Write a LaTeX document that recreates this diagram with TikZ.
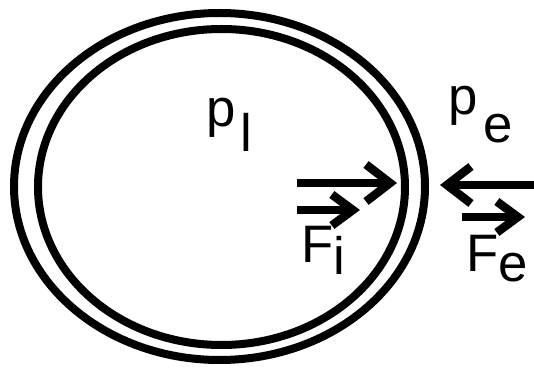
\documentclass[tikz,border=0pt]{standalone}
\usepackage{fontspec}
\setmainfont{Liberation Sans}
\usetikzlibrary{arrows.meta, shapes.geometric}

\begin{document}
\begin{tikzpicture}[
    wall/.style={draw, ellipse, line width=0.16cm, inner sep=0, outer sep=0},
    force/.style={-{Straight Barb[length=0.48cm, width=0.74cm]}, line width=0.17cm},
    vec/.style={-{Straight Barb[length=0.42cm, width=0.62cm]}, line width=0.17cm},
    lbl/.style={anchor=base west, inner sep=0, font=\fontsize{30}{30}\selectfont},
]
    \useasboundingbox (0,0) rectangle (10.68,7.36);

    % Bubble wall
    \node[wall, minimum width=8.22cm, minimum height=6.94cm] (wall-out) at (4.39,3.63) {};
    \node[wall, minimum width=7.34cm, minimum height=6.32cm] (wall-in) at (4.43,3.62) {};

    % Pressures
    \node[lbl] (p-in) at (4.12,4.82) {p\kern0.1cm\raisebox{-0.5cm}{l}};
    \node[lbl] (p-out) at (8.96,5.06) {p\kern0.12cm\raisebox{-0.56cm}{e}};

    % Forces
    \coordinate (fi-start) at (5.94,3.70);
    \coordinate (fe-start) at (10.68,3.66);
    \draw[force, shorten >=0.16cm] (fi-start) -- (fi-start -| wall-in.east);
    \draw[force, shorten >=0.3cm] (fe-start) -- (fe-start -| wall-out.east);

    \node[lbl] (Fi) at (6.02,2.10) {F\raisebox{-0.24cm}{i}};
    \node[lbl] (Fe) at (9.32,1.92) {F\raisebox{-0.2cm}{e}};
    \draw[vec] ([shift={(-0.08,1.06)}]Fi.base west) -- ++(1.26,0);
    \draw[vec] ([shift={(-0.08,1.10)}]Fe.base west) -- ++(1.26,0);
\end{tikzpicture}
\end{document}
